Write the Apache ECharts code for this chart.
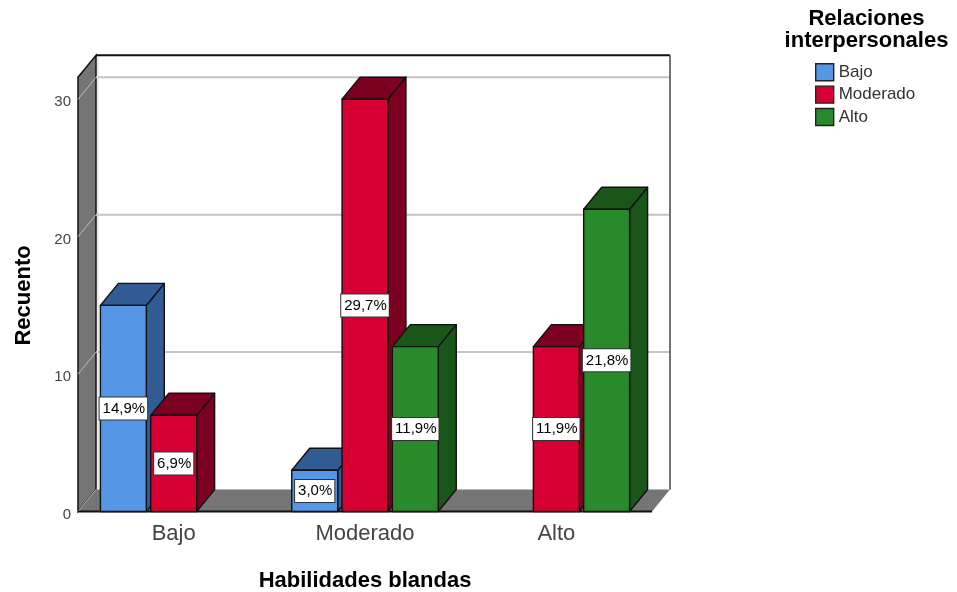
<!DOCTYPE html>
<html>
<head>
<meta charset="utf-8">
<style>html,body{margin:0;padding:0;background:#fff}#chart{width:957px;height:592px}</style>
<script src="https://cdn.jsdelivr.net/npm/echarts@6/dist/echarts.min.js"></script>
</head>
<body>
<div id="chart"></div>
<script>
// Counts per category of "Habilidades blandas", one array per "Relaciones interpersonales" level
const categories = ['Bajo', 'Moderado', 'Alto'];
const yTicks = [0, 10, 20, 30];
const bajoValues = [15, 3, null];
const moderadoValues = [7, 30, 12];
const altoValues = [null, 12, 22];
const bajoLabels = ['14,9%', '3,0%', null];
const moderadoLabels = ['6,9%', '29,7%', '11,9%'];
const altoLabels = [null, '11,9%', '21,8%'];

const FONT = '"Liberation Sans", Arial, sans-serif';
const DEPTH_X = 18, DEPTH_Y = 22;
const WALL = '#757575', INK = '#111';

const palette = {
  Bajo: { front: '#5596e6', shade: '#305b93' },
  Moderado: { front: '#d60032', shade: '#7c0020' },
  Alto: { front: '#288a2a', shade: '#1a551a' }
};

// Walls and floor of the 3D box, anchored on the axes
function renderBox(params, api) {
  const left = api.coord([0, 0])[0] - api.size([1, 0])[0] / 2;
  const right = left + api.size([1, 0])[0] * 3;
  const y0 = api.coord([0, 0])[1];
  const yTop = api.coord([0, yTicks[yTicks.length - 1]])[1];
  const poly = (points, fill, stroke, w) => ({
    type: 'polygon', shape: { points },
    style: { fill: fill, stroke: stroke, lineWidth: w }
  });
  const line = (x1, y1, x2, y2, stroke, w) => ({
    type: 'line', shape: { x1, y1, x2, y2 },
    style: { stroke: stroke, lineWidth: w }
  });
  const bx = left + DEPTH_X, ex = right + DEPTH_X;
  const children = [
    poly([[bx, yTop - 2 * DEPTH_Y], [ex, yTop - 2 * DEPTH_Y], [ex, y0 - DEPTH_Y], [bx, y0 - DEPTH_Y]], '#fff', null, 0),
    poly([[left, yTop - DEPTH_Y], [bx, yTop - 2 * DEPTH_Y], [bx, y0 - DEPTH_Y], [left, y0]], WALL, INK, 1.5),
    poly([[left, y0], [bx, y0 - DEPTH_Y], [ex, y0 - DEPTH_Y], [right, y0]], WALL, null, 0)
  ];
  yTicks.forEach(function (t) {
    const y = api.coord([0, t])[1];
    children.push(line(left, y, bx, y - DEPTH_Y, '#bdbdbd', 1));
    if (t > 0) children.push(line(bx, y - DEPTH_Y, ex, y - DEPTH_Y, '#c4c4c4', 2));
  });
  children.push(line(bx + 2, yTop - 2 * DEPTH_Y, bx + 2, y0 - DEPTH_Y, '#d4d4d4', 1));
  children.push(line(bx, yTop - 2 * DEPTH_Y, ex, yTop - 2 * DEPTH_Y, INK, 2));
  children.push(line(ex, yTop - 2 * DEPTH_Y, ex, y0 - DEPTH_Y, '#444', 1.5));
  children.push(line(left, y0, right, y0, INK, 2));
  return { type: 'group', children: children };
}

// One extruded bar: front face, side and top, plus its percentage box
function barRenderer(name, slot, labels) {
  const col = palette[name];
  return function (params, api) {
    const i = api.value(0);
    const v = api.value(1);
    const band = api.size([1, 0])[0];
    const cx = api.coord([i, 0])[0] + slot * band * 0.2629;
    const w = band * 0.24;
    const y0 = api.coord([i, 0])[1];
    const y1 = api.coord([i, v])[1];
    const xl = cx - w / 2, xr = cx + w / 2;
    const face = (points, fill) => ({
      type: 'polygon', shape: { points },
      style: { fill: fill, stroke: INK, lineWidth: 1.4, lineJoin: 'round' }
    });
    return {
      type: 'group',
      children: [
        face([[xr, y1], [xr + DEPTH_X, y1 - DEPTH_Y], [xr + DEPTH_X, y0 - DEPTH_Y], [xr, y0]], col.shade),
        face([[xl, y1], [xl + DEPTH_X, y1 - DEPTH_Y], [xr + DEPTH_X, y1 - DEPTH_Y], [xr, y1]], col.shade),
        face([[xl, y1], [xr, y1], [xr, y0], [xl, y0]], col.front),
        {
          type: 'text', z2: 10,
          x: cx, y: (y0 + y1) / 2,
          style: {
            text: labels[i], x: 0, y: 0,
            align: 'center', verticalAlign: 'middle',
            font: '15px ' + FONT, fill: '#000',
            backgroundColor: '#fff', borderColor: '#333', borderWidth: 1,
            padding: [4, 2, 3, 3]
          }
        }
      ]
    };
  };
}

function barSeries(name, slot, values, labels) {
  return {
    name: name,
    type: 'custom',
    silent: true,
    z: 3,
    itemStyle: { color: palette[name].front },
    renderItem: barRenderer(name, slot, labels),
    encode: { x: 0, y: 1 },
    data: values.map((v, i) => (v === null ? null : [i, v])).filter(Boolean)
  };
}

const chart = echarts.init(document.getElementById('chart'), null, { renderer: 'canvas' });
chart.setOption({
  animation: false,
  backgroundColor: '#fff',
  textStyle: { fontFamily: FONT },
  title: {
    text: 'Relaciones\ninterpersonales',
    left: 861.5, top: 3, textAlign: 'center',
    textStyle: { fontFamily: FONT, fontWeight: 'bold', fontSize: 22, lineHeight: 22, color: '#000' }
  },
  legend: {
    orient: 'vertical', left: 810, top: 58,
    itemWidth: 18, itemHeight: 17, itemGap: 4,
    icon: 'rect',
    selectedMode: false,
    data: ['Bajo', 'Moderado', 'Alto'],
    itemStyle: { borderColor: '#222', borderWidth: 1.4 },
    textStyle: { fontFamily: FONT, fontSize: 17, color: '#333' }
  },
  grid: { left: 78, right: 305, top: 99.3, bottom: 80.5, outerBoundsMode: 'none' },
  xAxis: {
    type: 'category', data: categories,
    name: 'Habilidades blandas', nameLocation: 'middle', nameGap: 58,
    nameTextStyle: { fontFamily: FONT, fontWeight: 'bold', fontSize: 22, color: '#000' },
    axisLine: { show: false }, axisTick: { show: false },
    axisLabel: { fontFamily: FONT, fontSize: 22, color: '#444', margin: 11 }
  },
  yAxis: {
    type: 'value', min: 0, max: 30, interval: 10,
    name: 'Recuento', nameLocation: 'middle', nameGap: 43, nameRotate: 90,
    nameTextStyle: { fontFamily: FONT, fontWeight: 'bold', fontSize: 22, color: '#000', padding: [0, 0, 0, 20] },
    axisLine: { show: false }, axisTick: { show: false }, splitLine: { show: false },
    axisLabel: {
      margin: 7,
      formatter: '{tick|{value}}',
      rich: { tick: { fontFamily: FONT, fontSize: 15, color: '#444', padding: [6, 0, 0, 0] } }
    }
  },
  series: [
    {
      type: 'custom', silent: true, z: 1,
      renderItem: renderBox, data: [[0, 0]], encode: { x: 0, y: 1 }
    },
    barSeries('Bajo', -1, bajoValues, bajoLabels),
    barSeries('Moderado', 0, moderadoValues, moderadoLabels),
    barSeries('Alto', 1, altoValues, altoLabels)
  ]
});
</script>
</body>
</html>
